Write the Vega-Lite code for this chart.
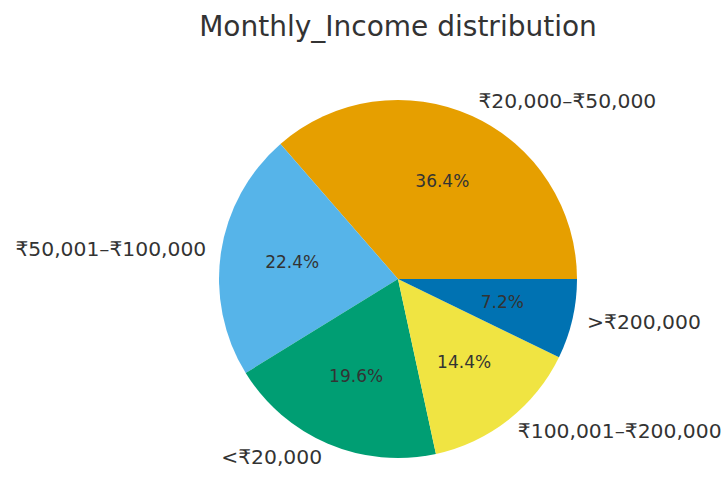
{
  "$schema": "https://vega.github.io/schema/vega-lite/v6.json",
  "width": 400,
  "height": 400,
  "autosize": "none",
  "padding": {"left": 198, "top": 79, "right": 128, "bottom": 0},
  "background": "white",
  "title": {
    "text": "Monthly_Income distribution",
    "font": "DejaVu Sans",
    "fontSize": 28,
    "fontWeight": "normal",
    "color": "#333333",
    "baseline": "alphabetic",
    "offset": 15,
    "anchor": "middle"
  },
  "data": {
    "values": [
      {"label": "₹20,000–₹50,000", "count": 91, "pct": "36.4%"},
      {"label": "₹50,001–₹100,000", "count": 56, "pct": "22.4%"},
      {"label": "<₹20,000", "count": 49, "pct": "19.6%"},
      {"label": "₹100,001–₹200,000", "count": 36, "pct": "14.4%"},
      {"label": ">₹200,000", "count": 18, "pct": "7.2%"}
    ]
  },
  "config": {"view": {"stroke": null}},
  "encoding": {
    "theta": {"field": "count", "type": "quantitative", "stack": true,
      "scale": {"range": [1.5707963, 7.8539816]}},
    "order": {"field": "count", "type": "quantitative", "sort": "ascending"}
  },
  "layer": [
    {
      "mark": {"type": "arc", "outerRadius": 179},
      "encoding": {
        "color": {
          "field": "label", "type": "nominal", "legend": null,
          "scale": {
            "domain": ["₹20,000–₹50,000", "₹50,001–₹100,000", "<₹20,000", "₹100,001–₹200,000", ">₹200,000"],
            "range": ["#E69F00", "#56B4E9", "#009E73", "#F0E442", "#0072B2"]
          }
        }
      }
    },
    {
      "mark": {"type": "text", "radius": 107, "font": "DejaVu Sans", "fontSize": 17, "color": "#333333", "baseline": "middle", "align": "center"},
      "encoding": {"text": {"field": "pct", "type": "nominal"}}
    },
    {
      "mark": {"type": "text", "radius": 194, "font": "DejaVu Sans", "fontSize": 20.3, "color": "#333333", "baseline": "middle",
        "align": {"expr": "(datum.label == '₹50,001–₹100,000' || datum.label == '<₹20,000') ? 'right' : 'left'"}},
      "encoding": {"text": {"field": "label", "type": "nominal"}}
    }
  ]
}
